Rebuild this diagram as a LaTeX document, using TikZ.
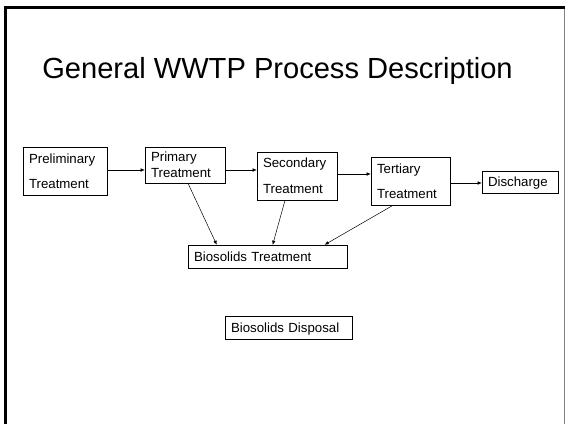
\documentclass[tikz,border=0pt]{standalone}
\usepackage{fontspec}
\setmainfont{Liberation Sans}
\usetikzlibrary{arrows, arrows.meta}
\usetikzlibrary{calc}

\begin{document}
\begin{tikzpicture}[x=1bp, y=-1bp,
    stage/.style={draw, line width=0.6pt, inner xsep=6bp, inner ysep=0pt, align=left, font=\fontsize{13.3}{16}\selectfont},
    oneline/.style={stage, text depth=0pt},
    flow/.style={-{Latex[length=4bp, width=3.5bp]}, line width=0.5pt}]
    \useasboundingbox (0, 0) rectangle (565, 424);

    % slide frame
    \draw[line width=2.7bp] (5.3, 424) -- (5.3, 7.3) -- (565, 7.3);
    \draw[gray, line width=1bp] (564, 8.6) -- (564, 424);

    \node[anchor=base, font=\fontsize{29.2}{34}\selectfont] (title) at (277.5, 78) {General WWTP Process Description};

    \node[stage, text width=72bp, minimum height=48bp] (pre) at (65, 171) {Preliminary\\[9bp]Treatment};
    \node[stage, text width=68bp, minimum height=36bp] (prim) at (185, 165) {Primary\\Treatment};
    \node[stage, text width=68bp, minimum height=48bp] (sec) at (297, 176) {Secondary\\[10bp]Treatment};
    \node[stage, text width=67bp, minimum height=48bp] (tert) at (410.5, 181) {Tertiary\\[9bp]Treatment};
    \node[oneline, text width=64bp, minimum height=22bp] (dis) at (520, 182) {Discharge};
    \node[oneline, text width=147bp, minimum height=23bp] (bio) at (267.5, 256.5) {Biosolids Treatment};
    \node[oneline, text width=115bp, minimum height=23bp] (disp) at (288.5, 327.5) {Biosolids Disposal};

    \draw[flow] ($(pre.east)+(0, -1)$) -- ($(prim.west)+(0, 5)$);
    \draw[flow] ($(prim.east)+(0, 5)$) -- ($(sec.west)+(0, -6)$);
    \draw[flow] ($(sec.east)+(0, -2)$) -- ($(tert.west)+(0, -7)$);
    \draw[flow] ($(tert.east)+(0, 2)$) -- ($(dis.west)+(0, 1)$);

    \draw[flow] ($(prim.south)+(3, 0)$) -- ($(bio.north west)+(29, 0)$);
    \draw[flow] ($(sec.south)+(-12, 0)$) -- ($(bio.north west)+(85, 0)$);
    \draw[flow] ($(tert.south)+(-17.5, 0)$) -- ($(bio.north west)+(137, 0)$);
\end{tikzpicture}
\end{document}
